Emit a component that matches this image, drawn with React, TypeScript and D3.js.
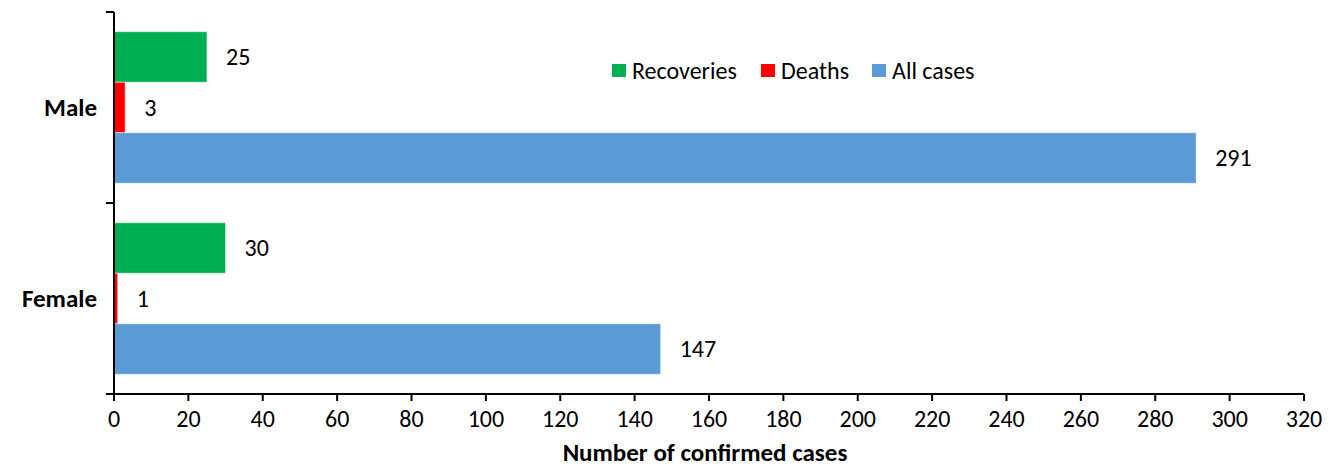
import * as d3 from 'd3';
import { useMemo } from 'react';

// chart data
const categories = ['Male', 'Female'];
const seriesNames = ['Recoveries', 'Deaths', 'All cases'];
const recoveries = [25, 30];
const deaths = [3, 1];
const allCases = [291, 147];
const xTicks = [0, 20, 40, 60, 80, 100, 120, 140, 160, 180, 200, 220, 240, 260, 280, 300, 320];

const COLORS = ['#00B050', '#FF0000', '#5B9BD5'];
const WIDTH = 1331;
const HEIGHT = 467;
const MARGIN = { top: 12, right: 27, bottom: 73, left: 114 };
const FONT = 'Carlito, Calibri, "Open Sans", sans-serif';
const FS = 24; // regular text size
const FS_BOLD = 25;

export default function App() {
  const boundsWidth = WIDTH - MARGIN.left - MARGIN.right;
  const boundsHeight = HEIGHT - MARGIN.top - MARGIN.bottom;

  const values = [recoveries, deaths, allCases];

  const xScale = useMemo(
    () => d3.scaleLinear().domain([0, 320]).range([0, boundsWidth]),
    [boundsWidth]
  );

  // one band per category, then one sub-band per series
  const yScale = useMemo(
    () => d3.scaleBand().domain(categories).range([0, boundsHeight]).paddingInner(0).paddingOuter(0),
    [boundsHeight]
  );
  const subScale = useMemo(
    () =>
      d3
        .scaleBand()
        .domain(seriesNames)
        .range([0, yScale.bandwidth()])
        .paddingOuter(0.39)
        .paddingInner(0),
    [yScale]
  );

  const bars = categories.flatMap((cat, ci) =>
    seriesNames.map((s, si) => {
      const v = values[si][ci];
      const y = (yScale(cat) as number) + (subScale(s) as number);
      const h = subScale.bandwidth();
      return (
        <g key={`${cat}-${s}`}>
          <rect
            x={0}
            y={y}
            width={xScale(v)}
            height={h}
            fill={COLORS[si]}
            stroke="#ffffff"
            strokeOpacity={0.5}
            strokeWidth={1}
          />
          <text
            x={xScale(v) + 19}
            y={y + h / 2}
            dy="0.35em"
            fontSize={FS}
            fontFamily={FONT}
            fill="#000"
          >
            {v}
          </text>
        </g>
      );
    })
  );

  const legendItems = [
    { name: seriesNames[0], x: 612 },
    { name: seriesNames[1], x: 761 },
    { name: seriesNames[2], x: 872 },
  ];

  return (
    <svg width={WIDTH} height={HEIGHT} style={{ position: 'absolute', left: 0, top: 0 }}>
      <g transform={`translate(${MARGIN.left},${MARGIN.top})`}>
        {bars}

        {/* y axis */}
        <line x1={0} x2={0} y1={0} y2={boundsHeight} stroke="#000" strokeWidth={2} />
        {[0, yScale.bandwidth(), boundsHeight].map((y, i) => (
          <line key={i} x1={-8} x2={0} y1={y} y2={y} stroke="#000" strokeWidth={2} />
        ))}
        {categories.map((cat) => (
          <text
            key={cat}
            x={-17}
            y={(yScale(cat) as number) + yScale.bandwidth() / 2}
            dy="0.35em"
            textAnchor="end"
            fontSize={FS_BOLD}
            fontWeight="bold"
            fontFamily={FONT}
          >
            {cat}
          </text>
        ))}

        {/* x axis */}
        <g transform={`translate(0,${boundsHeight})`}>
          <line x1={0} x2={boundsWidth} y1={0} y2={0} stroke="#000" strokeWidth={2} />
          {xTicks.map((t) => (
            <g key={t} transform={`translate(${xScale(t)},0)`}>
              <line y1={0} y2={7} stroke="#000" strokeWidth={2} />
              <text y={25} dy="0.35em" textAnchor="middle" fontSize={FS} fontFamily={FONT}>
                {t}
              </text>
            </g>
          ))}
          <text
            x={boundsWidth / 2 - 4}
            y={58}
            dy="0.35em"
            textAnchor="middle"
            fontSize={FS_BOLD}
            fontWeight="bold"
            fontFamily={FONT}
          >
            Number of confirmed cases
          </text>
        </g>
      </g>

      {/* legend */}
      {legendItems.map((item, i) => (
        <g key={item.name} transform={`translate(${item.x},64)`}>
          <rect x={0} y={0} width={14} height={13} fill={COLORS[i]} />
          <text x={20} y={7} dy="0.35em" fontSize={FS} fontFamily={FONT}>
            {item.name}
          </text>
        </g>
      ))}
    </svg>
  );
}
